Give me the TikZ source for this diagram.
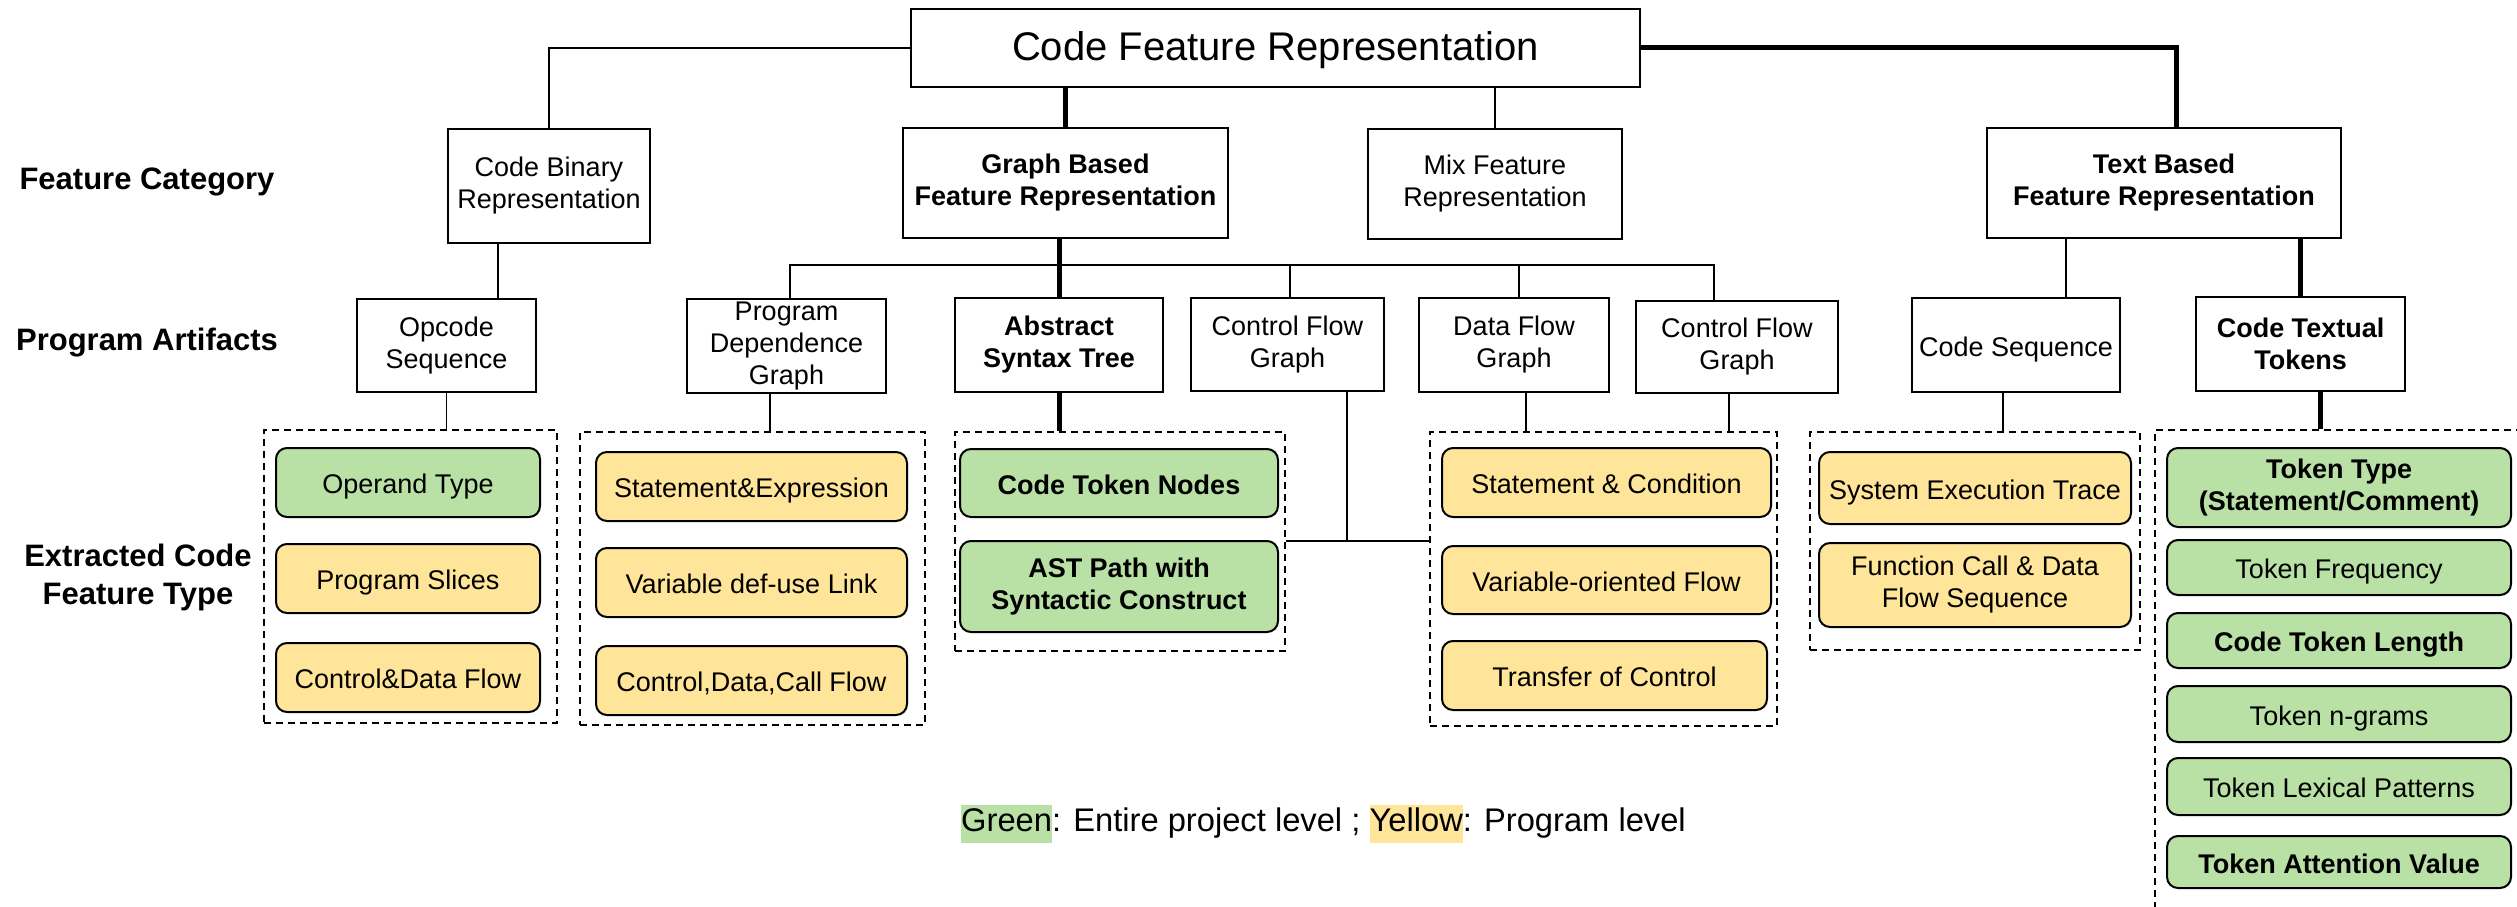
\documentclass[tikz,border=0pt]{standalone}
\usepackage{fontspec}
\setmainfont{Liberation Sans}
\usetikzlibrary{calc}
\definecolor{pgreen}{HTML}{B9E0A5}
\definecolor{pyellow}{HTML}{FFE599}
\setlength{\fboxsep}{0pt}
\tikzset{
  base/.style={font=\fontsize{27}{32}\selectfont, align=center, inner sep=2pt},
  bf/.style={font=\fontsize{27}{32}\selectfont\bfseries},
  one/.style={text height=28pt, text depth=6pt},
  cat/.style={base, draw, line width=2pt, rectangle, fill=white},
  feat/.style={base, draw, line width=2pt, rounded corners=11pt},
  gfeat/.style={feat, fill=pgreen},
  yfeat/.style={feat, fill=pyellow},
  grp/.style={draw, line width=1.8pt, dash pattern=on 7pt off 5pt, inner sep=0pt},
  conn/.style={line width=1.6pt},
  thk/.style={line width=5pt},
  lbl/.style={font=\fontsize{31}{38}\selectfont\bfseries, align=center, inner sep=0pt}
}
\begin{document}
\begin{tikzpicture}[x=1pt, y=-1pt]
\useasboundingbox (0,0) rectangle (2517,907);
\fill[white] (0,0) rectangle (2517,907);
\clip (0,0) rectangle (2517,907);

% labels
\node[lbl] (lcat) at (147,182) {Feature Category};
\node[lbl] (lart) at (147,343) {Program Artifacts};
\node[lbl] (lext) at (138,577) {Extracted Code\\Feature Type};

% top and categories
\node[cat, minimum width=729pt, minimum height=78pt, font=\fontsize{40}{48}\selectfont, text height=32pt, text depth=8pt] (top) at (1275.5,48) {Code Feature Representation};
\node[cat, minimum width=202pt, minimum height=114pt] (cb) at (549,186) {Code Binary\\Representation};
\node[cat, bf, minimum width=325pt, minimum height=110pt] (gb) at (1065.5,183) {Graph Based\\Feature Representation};
\node[cat, minimum width=254pt, minimum height=110pt] (mix) at (1495,184) {Mix Feature\\Representation};
\node[cat, bf, minimum width=354pt, minimum height=110pt] (tb) at (2164,183) {Text Based\\Feature Representation};

% artifacts
\node[cat, minimum width=179pt, minimum height=93pt] (opc) at (446.5,345.5) {Opcode\\Sequence};
\node[cat, minimum width=199pt, minimum height=94pt] (pdg) at (786.5,346) {Program\\Dependence\\Graph};
\node[cat, bf, minimum width=208pt, minimum height=94pt] (ast) at (1059,345) {Abstract\\Syntax Tree};
\node[cat, minimum width=193pt, minimum height=93pt] (cfga) at (1287.5,344.5) {Control Flow\\Graph};
\node[cat, minimum width=190pt, minimum height=94pt] (dfg) at (1514,345) {Data Flow\\Graph};
\node[cat, minimum width=202pt, minimum height=92pt] (cfgb) at (1737,347) {Control Flow\\Graph};
\node[cat, one, minimum width=208pt, minimum height=94pt] (cs) at (2016,345) {Code Sequence};
\node[cat, bf, minimum width=209pt, minimum height=94pt] (ctt) at (2300.5,344) {Code Textual\\Tokens};

% groups
\node[grp, minimum width=293pt, minimum height=293pt] (g1) at (410.5,576.5) {};
\node[grp, minimum width=345pt, minimum height=293pt] (g2) at (752.5,578.5) {};
\node[grp, minimum width=330pt, minimum height=219pt] (g3) at (1120,541.5) {};
\node[grp, minimum width=347pt, minimum height=294pt] (g4) at (1603.5,579) {};
\node[grp, minimum width=330pt, minimum height=218pt] (g5) at (1975,541) {};
\node[grp, minimum width=405pt, minimum height=530pt] (g6) at (2357.5,695) {};

% features
\node[gfeat, one, minimum width=264pt, minimum height=69pt] (f11) at (408,482.5) {Operand Type};
\node[yfeat, one, minimum width=264pt, minimum height=69pt] (f12) at (408,578.5) {Program Slices};
\node[yfeat, one, minimum width=264pt, minimum height=69pt] (f13) at (408,677.5) {Control\&Data Flow};

\node[yfeat, one, minimum width=311pt, minimum height=69pt] (f21) at (751.5,486.5) {Statement\&Expression};
\node[yfeat, one, minimum width=311pt, minimum height=69pt] (f22) at (751.5,582.5) {Variable def-use Link};
\node[yfeat, one, minimum width=311pt, minimum height=69pt] (f23) at (751.5,680.5) {Control,Data,Call Flow};

\node[gfeat, bf, one, minimum width=318pt, minimum height=68pt] (f31) at (1119,483) {Code Token Nodes};
\node[gfeat, bf, minimum width=318pt, minimum height=91pt] (f32) at (1119,586.5) {AST Path with\\Syntactic Construct};

\node[yfeat, one, minimum width=329pt, minimum height=69pt] (f41) at (1606.5,482.5) {Statement \& Condition};
\node[yfeat, one, minimum width=329pt, minimum height=68pt] (f42) at (1606.5,580) {Variable-oriented Flow};
\node[yfeat, one, minimum width=325pt, minimum height=69pt] (f43) at (1604.5,675.5) {Transfer of Control};

\node[yfeat, one, minimum width=312pt, minimum height=72pt] (f51) at (1975,488) {System Execution Trace};
\node[yfeat, minimum width=312pt, minimum height=84pt] (f52) at (1975,585) {Function Call \& Data\\Flow Sequence};

\node[gfeat, bf, minimum width=344pt, minimum height=79pt] (f61) at (2339,487.5) {Token Type\\(Statement/Comment)};
\node[gfeat, one, minimum width=344pt, minimum height=55pt] (f62) at (2339,567.5) {Token Frequency};
\node[gfeat, bf, one, minimum width=344pt, minimum height=55pt] (f63) at (2339,640.5) {Code Token Length};
\node[gfeat, one, minimum width=344pt, minimum height=56pt] (f64) at (2339,714) {Token n-grams};
\node[gfeat, one, minimum width=344pt, minimum height=57pt] (f65) at (2339,786.5) {Token Lexical Patterns};
\node[gfeat, bf, one, minimum width=344pt, minimum height=52pt] (f66) at (2339,862) {Token Attention Value};

% legend
\node[anchor=west, inner sep=0pt, font=\fontsize{32.7}{38}\selectfont] (legend) at (961,824)
  {\colorbox{pgreen}{\strut Green}: Entire project level ; \colorbox{pyellow}{\strut Yellow}: Program level};

% helper coordinates
\coordinate (busy) at (0,265);
\coordinate (j) at (1347,541);
\coordinate (m1) at ($(cb.south)!.5!(opc.north)$);
\coordinate (pdgt) at ([xshift=3.5pt]pdg.north);
\coordinate (cfgbt) at ([xshift=-23pt]cfgb.north);
\coordinate (cfgat) at ([xshift=2.5pt]cfga.north);
\coordinate (dfgt) at ([xshift=5pt]dfg.north);
\coordinate (pdgb) at ([xshift=-16.5pt]pdg.south);
\coordinate (dfgb) at ([xshift=12pt]dfg.south);
\coordinate (cfgbb) at ([xshift=-8pt]cfgb.south);
\coordinate (csb) at ([xshift=-13pt]cs.south);
\coordinate (cttb) at ([xshift=19.5pt]ctt.south);
\coordinate (cst) at ([xshift=50pt]cs.north);
\coordinate (tbt) at ([xshift=12pt]tb.north);

% connectors
\draw[conn] (top.west) -| (cb.north);
\draw[thk] (gb.north) -- (gb.north |- top.south);
\draw[conn] (mix.north) -- (mix.north |- top.south);
\draw[thk] (top.east) -| (tbt);

\draw[conn] (m1 |- cb.south) -- (m1 |- opc.north);
\draw[thk] (ast.north |- gb.south) -- (ast.north);
\draw[conn] (pdgt) -- (pdgt |- busy) -- (cfgbt |- busy) -- (cfgbt);
\draw[conn] (cfgat |- busy) -- (cfgat);
\draw[conn] (dfgt |- busy) -- (dfgt);
\draw[conn] (cst |- tb.south) -- (cst);
\draw[thk] (ctt.north |- tb.south) -- (ctt.north);

\draw[conn] (opc.south) -- (opc.south |- g1.north);
\draw[conn] (pdgb) -- (pdgb |- g2.north);
\draw[thk] (ast.south) -- (ast.south |- g3.north);
\draw[conn] (j |- cfga.south) -- (j);
\draw[conn] (g3.east |- j) -- (g4.west |- j);
\draw[conn] (dfgb) -- (dfgb |- g4.north);
\draw[conn] (cfgbb) -- (cfgbb |- g4.north);
\draw[conn] (csb) -- (csb |- g5.north);
\draw[thk] (cttb) -- (cttb |- g6.north);
\end{tikzpicture}
\end{document}
